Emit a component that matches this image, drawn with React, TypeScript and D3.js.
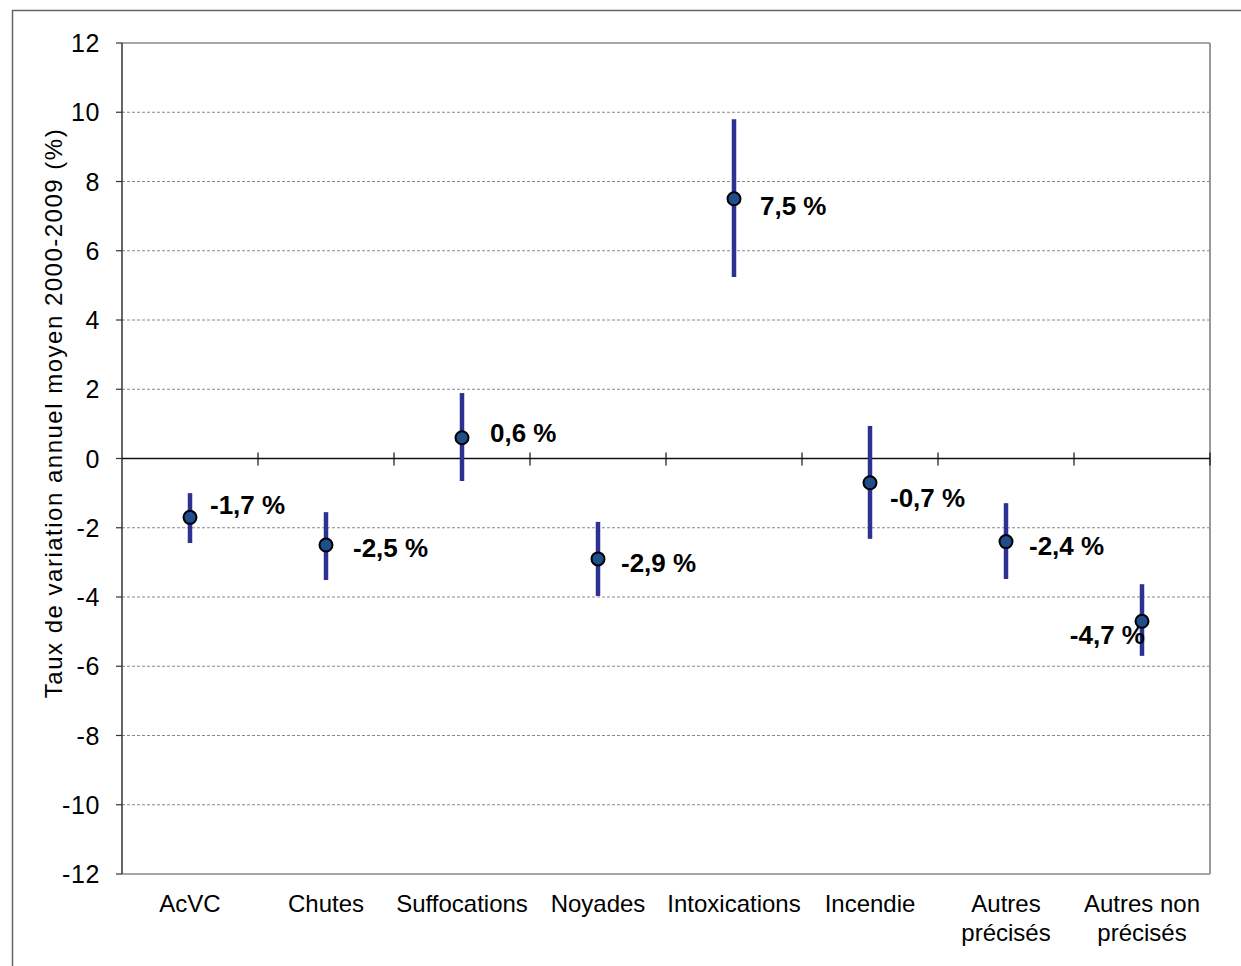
import React from "react";
import * as d3 from "d3";

const categories: string[][] = [
  ["AcVC"],
  ["Chutes"],
  ["Suffocations"],
  ["Noyades"],
  ["Intoxications"],
  ["Incendie"],
  ["Autres", "précisés"],
  ["Autres non", "précisés"],
];
const values = [-1.7, -2.5, 0.6, -2.9, 7.5, -0.7, -2.4, -4.7];
const lower = [-2.44, -3.51, -0.65, -3.97, 5.24, -2.32, -3.48, -5.7];
const upper = [-1.0, -1.55, 1.89, -1.83, 9.8, 0.94, -1.29, -3.63];
const valueLabels = ["-1,7 %", "-2,5 %", "0,6 %", "-2,9 %", "7,5 %", "-0,7 %", "-2,4 %", "-4,7 %"];
const yTicks = [12, 10, 8, 6, 4, 2, 0, -2, -4, -6, -8, -10, -12];
const yTitle = "Taux de variation annuel moyen 2000-2009 (%)";

// layout nudges for value labels (dx from point, dy from point, anchor)
const labelNudges: [number, number, string][] = [
  [20, -13, "start"],
  [27, 3, "start"],
  [28, -5, "start"],
  [23, 4, "start"],
  [26, 7, "start"],
  [20, 15, "start"],
  [23, 4, "start"],
  [3, 13, "end"],
];

const W = 1241;
const H = 966;
const left = 122;
const right = 1210;
const top = 43;
const bottom = 874;
const FONT = "'Liberation Sans', Arial, sans-serif";

export default function App() {
  const x = d3
    .scaleBand<number>()
    .domain(d3.range(categories.length))
    .range([left, right])
    .paddingInner(0)
    .paddingOuter(0);
  const y = d3.scaleLinear().domain([-12, 12]).range([bottom, top]);
  const cx = (i: number) => (x(i) as number) + x.bandwidth() / 2;
  const boundaries = d3.range(1, categories.length + 1).map((i) => left + i * x.bandwidth());

  return (
    <svg
      width={W}
      height={H}
      style={{ position: "absolute", left: 0, top: 0, background: "#fff" }}
      fontFamily={FONT}
    >
      <rect x={12.5} y={10.5} width={1240} height={970} fill="#fff" stroke="#666" strokeWidth={1.5} />
      {/* gridlines */}
      {yTicks
        .filter((t) => t !== 0 && t !== 12 && t !== -12)
        .map((t) => (
          <line
            key={"g" + t}
            x1={left}
            x2={right}
            y1={y(t)}
            y2={y(t)}
            stroke="#888"
            strokeWidth={1}
            strokeDasharray="3,2"
          />
        ))}
      {/* plot border top/right/bottom */}
      <line x1={left} x2={right} y1={y(12)} y2={y(12)} stroke="#888" strokeWidth={1.5} />
      <line x1={left} x2={right} y1={y(-12)} y2={y(-12)} stroke="#888" strokeWidth={1.5} />
      <line x1={right} x2={right} y1={y(12)} y2={y(-12)} stroke="#999" strokeWidth={2} />
      {/* left axis */}
      <line x1={left} x2={left} y1={y(12)} y2={y(-12)} stroke="#333" strokeWidth={1.5} />
      {yTicks.map((t) => (
        <g key={"t" + t}>
          <line x1={left - 6} x2={left} y1={y(t)} y2={y(t)} stroke="#333" strokeWidth={1.2} />
          <text x={100} y={y(t)} dy="0.36em" textAnchor="end" fontSize={25} letterSpacing={0.6} fill="#000">
            {t}
          </text>
        </g>
      ))}
      {/* zero line */}
      <line x1={left} x2={right} y1={y(0)} y2={y(0)} stroke="#111" strokeWidth={1.5} />
      {boundaries.map((b) => (
        <line key={"b" + b} x1={b} x2={b} y1={y(0) - 6} y2={y(0) + 7} stroke="#111" strokeWidth={1.2} />
      ))}
      {/* axis title */}
      <text
        transform={`translate(62,413) rotate(-90)`}
        textAnchor="middle"
        fontSize={24}
        letterSpacing={1.5}
        fill="#000"
      >
        {yTitle}
      </text>
      {/* category labels */}
      {categories.map((lines, i) => (
        <text key={"c" + i} x={cx(i)} y={912} textAnchor="middle" fontSize={24} fill="#000">
          {lines.map((l, j) => (
            <tspan key={j} x={cx(i)} dy={j === 0 ? 0 : 29}>
              {l}
            </tspan>
          ))}
        </text>
      ))}
      {/* error bars and points */}
      {values.map((v, i) => (
        <g key={"p" + i}>
          <line x1={cx(i)} x2={cx(i)} y1={y(upper[i])} y2={y(lower[i])} stroke="#2e3192" strokeWidth={4.5} />
          <circle cx={cx(i)} cy={y(v)} r={6.5} fill="#1f4e8c" stroke="#000" strokeWidth={2} />
        </g>
      ))}
      {values.map((v, i) => (
        <text
          key={"l" + i}
          x={cx(i) + labelNudges[i][0]}
          y={y(v) + labelNudges[i][1]}
          dy="0.36em"
          textAnchor={labelNudges[i][2] as any}
          fontSize={26}
          fontWeight="bold"
          fill="#000"
        >
          {valueLabels[i]}
        </text>
      ))}
    </svg>
  );
}
